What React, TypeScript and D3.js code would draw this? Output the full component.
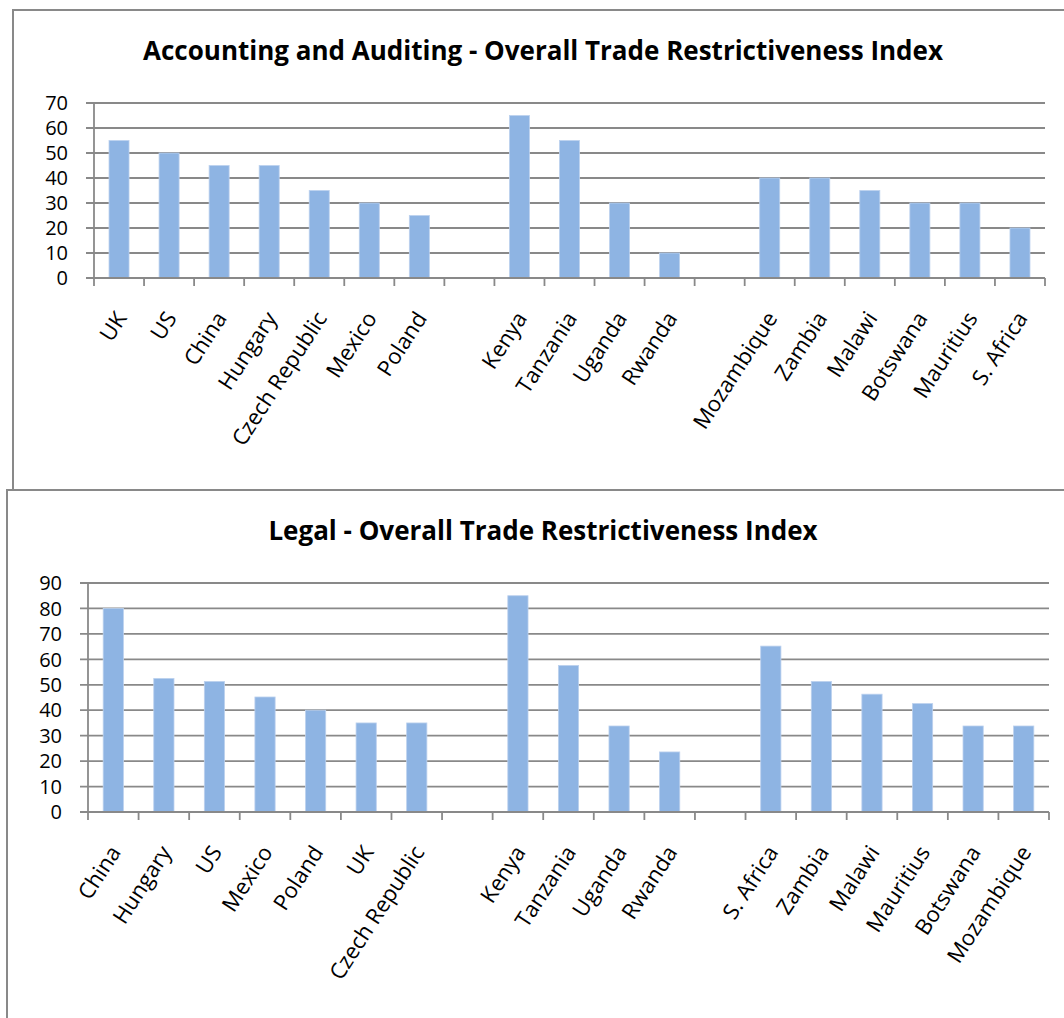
import React from 'react';
import * as d3 from 'd3';

// Accounting and Auditing panel
const accDeveloped = ['UK', 'US', 'China', 'Hungary', 'Czech Republic', 'Mexico', 'Poland'];
const accDevelopedValues = [55, 50, 45, 45, 35, 30, 25];
const accEast = ['Kenya', 'Tanzania', 'Uganda', 'Rwanda'];
const accEastValues = [65, 55, 30, 10];
const accSouth = ['Mozambique', 'Zambia', 'Malawi', 'Botswana', 'Mauritius', 'S. Africa'];
const accSouthValues = [40, 40, 35, 30, 30, 20];
const accTicks = [0, 10, 20, 30, 40, 50, 60, 70];

// Legal panel
const legDeveloped = ['China', 'Hungary', 'US', 'Mexico', 'Poland', 'UK', 'Czech Republic'];
const legDevelopedValues = [80, 52.5, 51.3, 45.2, 40, 35, 35];
const legEast = ['Kenya', 'Tanzania', 'Uganda', 'Rwanda'];
const legEastValues = [85, 57.6, 33.8, 23.6];
const legSouth = ['S. Africa', 'Zambia', 'Malawi', 'Mauritius', 'Botswana', 'Mozambique'];
const legSouthValues = [65.2, 51.3, 46.3, 42.6, 33.8, 33.8];
const legTicks = [0, 10, 20, 30, 40, 50, 60, 70, 80, 90];

interface Slot {
  key: string;
  label: string;
  value: number | null;
}

const buildSlots = (groups: [string[], number[]][]): Slot[] => {
  const slots: Slot[] = [];
  groups.forEach(([cats, vals], gi) => {
    if (gi > 0) slots.push({ key: `gap-${gi}`, label: '', value: null });
    cats.forEach((c, i) => slots.push({ key: `${gi}-${c}`, label: c, value: vals[i] }));
  });
  return slots;
};

const FONT = '"Open Sans", sans-serif';
const GRID = '#898989';
const BAR = '#8EB4E3';

interface PanelProps {
  title: string;
  slots: Slot[];
  ticks: number[];
  boxX: number;
  boxY: number;
  titleY: number;
  left: number;
  right: number;
  top: number;
  bottom: number;
}

const Panel: React.FC<PanelProps> = ({ title, slots, ticks, boxX, boxY, titleY, left, right, top, bottom }) => {
  const x = d3.scaleBand<string>()
    .domain(slots.map(s => s.key))
    .range([left, right])
    .paddingInner(0.6)
    .paddingOuter(0.3);
  const step = x.step();
  const y = d3.scaleLinear()
    .domain([0, d3.max(ticks) || 0])
    .range([bottom, top]);
  const bounds = d3.range(slots.length + 1).map(i => left + i * step);

  return (
    <g>
      <rect x={boxX} y={boxY} width={1100} height={600} fill="#fff" stroke={GRID} strokeWidth={2} />
      <text x={543} y={titleY} textAnchor="middle" fontFamily={FONT} fontWeight="bold" fontSize={26}>
        {title}
      </text>

      {/* gridlines + y ticks */}
      {ticks.map(t => (
        <g key={t}>
          <line x1={left - 8} x2={right} y1={y(t)} y2={y(t)} stroke={GRID} strokeWidth={1.8} />
          <text x={left - 26} y={y(t)} dy="0.36em" textAnchor="end" fontFamily={FONT} fontSize={20}>
            {t}
          </text>
        </g>
      ))}

      {/* bars */}
      {slots.filter(s => s.value !== null).map(s => (
        <rect
          key={s.key}
          x={x(s.key)}
          y={y(s.value as number)}
          width={x.bandwidth()}
          height={bottom - y(s.value as number)}
          fill={BAR}
          stroke="#bcd1ee"
          strokeWidth={0.8}
        />
      ))}

      {/* axes */}
      <line x1={left} x2={left} y1={top} y2={bottom} stroke={GRID} strokeWidth={1.8} />
      <line x1={left} x2={right} y1={bottom} y2={bottom} stroke={GRID} strokeWidth={1.8} />
      {bounds.map((b, i) => (
        <line key={i} x1={b} x2={b} y1={bottom} y2={bottom + 8} stroke={GRID} strokeWidth={1.8} />
      ))}

      {/* category labels */}
      {slots.filter(s => s.label).map(s => {
        const cx = (x(s.key) as number) + x.bandwidth() / 2;
        return (
          <text
            key={s.key}
            transform={`translate(${cx + 2},${bottom + 36}) rotate(-57)`}
            dy="0.35em"
            textAnchor="end"
            fontFamily={FONT}
            fontSize={22}
          >
            {s.label}
          </text>
        );
      })}
    </g>
  );
};

const App: React.FC = () => {
  const accSlots = buildSlots([
    [accDeveloped, accDevelopedValues],
    [accEast, accEastValues],
    [accSouth, accSouthValues],
  ]);
  const legSlots = buildSlots([
    [legDeveloped, legDevelopedValues],
    [legEast, legEastValues],
    [legSouth, legSouthValues],
  ]);

  return (
    <svg
      width={1064}
      height={1018}
      style={{ position: 'absolute', left: 0, top: 0, background: '#fff' }}
    >
      <Panel
        title="Accounting and Auditing - Overall Trade Restrictiveness Index"
        slots={accSlots}
        ticks={accTicks}
        boxX={13}
        boxY={10}
        titleY={60}
        left={94}
        right={1045}
        top={103}
        bottom={278}
      />
      <Panel
        title="Legal - Overall Trade Restrictiveness Index"
        slots={legSlots}
        ticks={legTicks}
        boxX={7}
        boxY={490}
        titleY={540}
        left={88}
        right={1049}
        top={583}
        bottom={812}
      />
    </svg>
  );
};

export default App;
